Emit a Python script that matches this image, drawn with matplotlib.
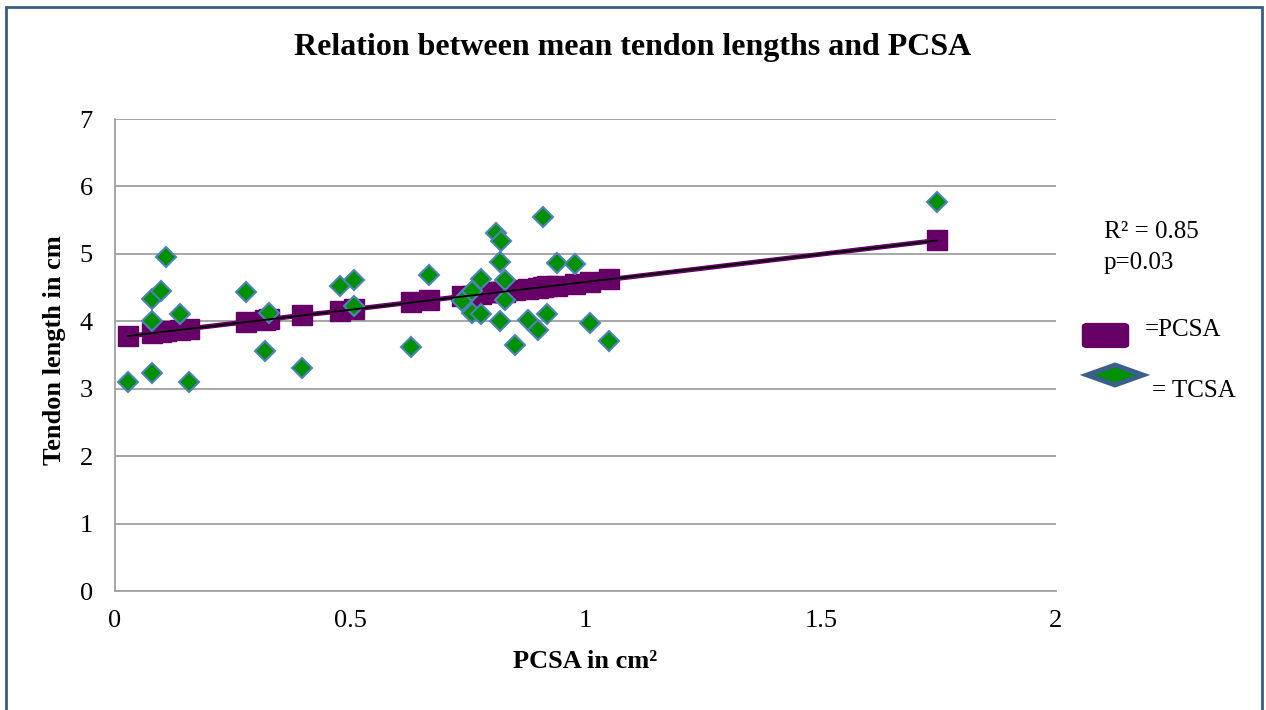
import numpy as np
import matplotlib
matplotlib.use('Agg')
import matplotlib.pyplot as plt
from matplotlib.patches import Rectangle, FancyBboxPatch, Polygon

plt.rcParams['font.family'] = ['Liberation Serif', 'DejaVu Serif']

# TCSA points (green diamonds)
tcsa_x = [0.028, 0.079, 0.157, 0.079, 0.079, 0.098, 0.108, 0.138, 0.278, 0.319,
          0.328, 0.397, 0.478, 0.508, 0.508, 0.629, 0.667, 0.738, 0.759, 0.759,
          0.778, 0.778, 0.81, 0.82, 0.818, 0.829, 0.829, 0.818, 0.85, 0.878,
          0.90, 0.91, 0.918, 0.94, 0.978, 1.01, 1.05, 1.747]
tcsa_y = [3.10, 3.23, 3.10, 4.01, 4.33, 4.45, 4.96, 4.11, 4.44, 3.56,
          4.12, 3.31, 4.52, 4.61, 4.23, 3.62, 4.69, 4.30, 4.45, 4.12,
          4.63, 4.11, 5.31, 5.19, 4.88, 4.61, 4.32, 4.01, 3.65, 4.02,
          3.87, 5.55, 4.11, 4.86, 4.85, 3.97, 3.71, 5.77]

# PCSA points (purple squares)
pcsa_x = [0.028, 0.079, 0.098, 0.108, 0.138, 0.157, 0.278, 0.319, 0.328, 0.397,
          0.478, 0.508, 0.629, 0.667, 0.738, 0.759, 0.778, 0.81, 0.818, 0.82,
          0.829, 0.85, 0.878, 0.90, 0.91, 0.918, 0.94, 0.978, 1.01, 1.05, 1.747]
pcsa_y = [3.78, 3.82, 3.84, 3.85, 3.87, 3.89, 3.99, 4.02, 4.03, 4.09,
          4.15, 4.18, 4.28, 4.31, 4.37, 4.38, 4.40, 4.43, 4.43, 4.43,
          4.44, 4.46, 4.48, 4.50, 4.51, 4.52, 4.53, 4.56, 4.59, 4.62, 5.20]

xticks = [0, 0.5, 1, 1.5, 2]
xtick_labels = ['0', '0.5', '1', '1.5', '2']
yticks = [0, 1, 2, 3, 4, 5, 6, 7]

purple = '#660066'
green = '#009000'
edge = '#4F81BD'

fig = plt.figure(figsize=(12.66, 7.10), dpi=100)
ax = fig.add_axes([115/1266, 1-591/710, 941/1266, 472/710])

ax.plot(pcsa_x, pcsa_y, color=purple, lw=3.5, marker='s', ms=14, mec=purple, mfc=purple, zorder=3)
ax.plot(tcsa_x, tcsa_y, ls='none', marker='D', ms=10.5, mfc=green, mec=edge, mew=1.5, zorder=4)

k, b = np.polyfit(pcsa_x, pcsa_y, 1)
fx = np.array([pcsa_x[0], pcsa_x[-1]])
ax.plot(fx, k*fx + b, color='black', lw=1.3, zorder=5)

ax.set_xlim(0, 2)
ax.set_ylim(0, 7)
ax.set_xticks(xticks)
ax.set_xticklabels(xtick_labels)
ax.set_yticks(yticks)
ax.grid(axis='y', color='#A0A0A0', lw=1.3)
ax.set_axisbelow(True)
for s in ['top', 'right']:
    ax.spines[s].set_visible(False)
for s in ['left', 'bottom']:
    ax.spines[s].set_color('#A0A0A0')
    ax.spines[s].set_linewidth(1.3)
ax.tick_params(axis='both', labelsize=19, length=0, colors='black')
ax.tick_params(axis='y', pad=16)
ax.tick_params(axis='x', pad=14)

fig.text(633/1266, 1-47/710, 'Relation between mean tendon lengths and PCSA',
         ha='center', va='center', fontsize=23, fontweight='bold')
fig.text(585/1266, 1-661/710, 'PCSA in cm²', ha='center', va='center',
         fontsize=19, fontweight='bold')
fig.text(54/1266, 1-350/710, 'Tendon length in cm', ha='center', va='center',
         rotation=90, fontsize=19, fontweight='bold')

fig.text(1104/1266, 1-232/710, 'R² = 0.85', ha='left', va='center', fontsize=18)
fig.text(1104/1266, 1-263/710, 'p=0.03', ha='left', va='center', fontsize=18)

# legend keys
fig.patches.append(FancyBboxPatch((1085/1266, 1-346/710), 41/1266, 21/710,
                                  boxstyle='round,pad=0.002,rounding_size=0.004',
                                  transform=fig.transFigure, fc=purple, ec=purple))
fig.patches.append(Polygon([(1087/1266, 1-375/710), (1115/1266, 1-365/710),
                            (1143/1266, 1-375/710), (1115/1266, 1-385/710)],
                           closed=True, transform=fig.transFigure,
                           fc=green, ec='#3B5F8C', lw=3.5))
fig.text(1145/1266, 1-330/710, '=PCSA', ha='left', va='center', fontsize=18)
fig.text(1152/1266, 1-391/710, '= TCSA', ha='left', va='center', fontsize=18)

# outer frame
fig.patches.append(Rectangle((6/1266, -0.05), 1256/1266, 1.05 - 7/710,
                             transform=fig.transFigure, fill=False,
                             ec='#385D8A', lw=2))

fig.savefig('out.png', dpi=100)
